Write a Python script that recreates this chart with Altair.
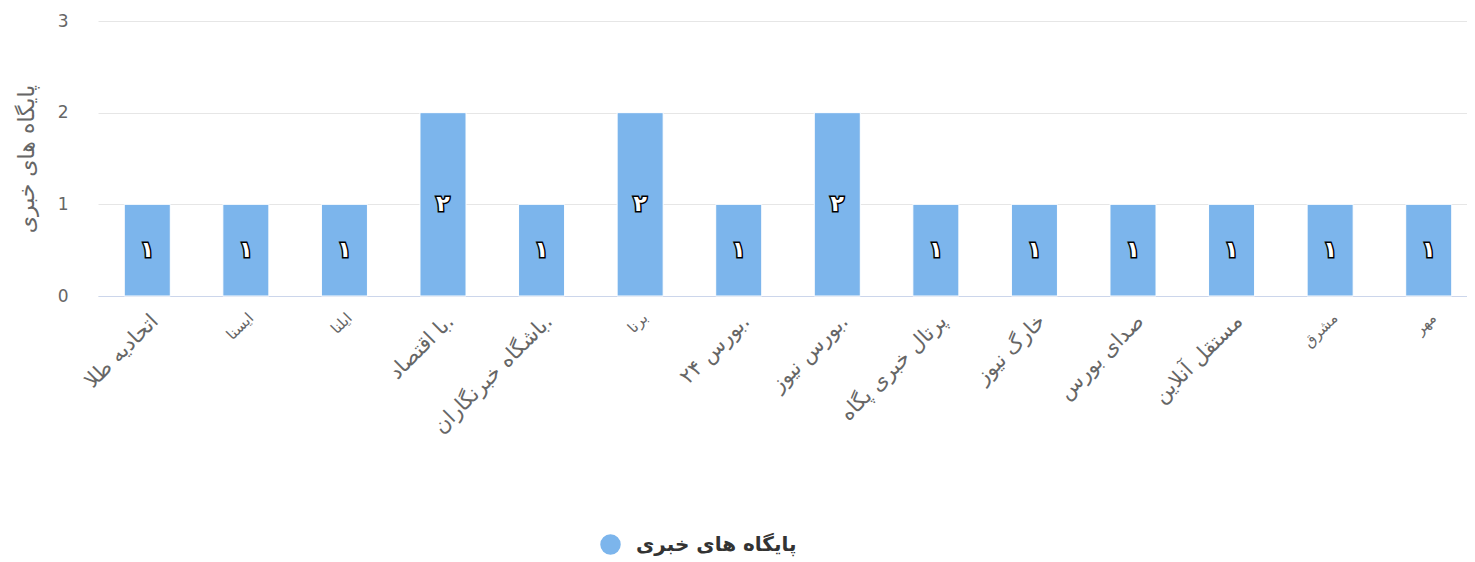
import altair as alt
import pandas as pd

categories = [
    "اتحادیه طلا", "ایسنا", "ایلنا", "با اقتصاد.", "باشگاه خبرنگاران.", "برنا",
    "بورس  ۲۴.", "بورس نیوز.", "پرتال خبری پگاه", "خارگ نیوز", "صدای بورس",
    "مستقل  آنلاین", "مشرق", "مهر",
]
values = [1, 1, 1, 2, 1, 2, 1, 2, 1, 1, 1, 1, 1, 1]
small_labels = ["ایسنا", "ایلنا", "برنا", "مشرق", "مهر"]
series_name = "پایگاه های خبری"

fa_digits = str.maketrans("0123456789", "۰۱۲۳۴۵۶۷۸۹")
df = pd.DataFrame({
    "cat": categories,
    "val": values,
    "lbl": [str(v).translate(fa_digits) for v in values],
    "series": [series_name] * len(values),
})

FONT = "DejaVu Sans"
small_test = "indexof([" + ",".join("'" + s + "'" for s in small_labels) + "], datum.value) >= 0"

base = alt.Chart(df).encode(
    x=alt.X("cat:N", sort=categories, title=None,
            scale=alt.Scale(paddingInner=0.533, paddingOuter=0.2665, range=[0, 1380]),
            axis=alt.Axis(labelAngle=-45, labelAlign="right", labelBaseline="top",
                          labelFontSize={"condition": {"test": small_test, "value": 15}, "value": 21},
                          labelColor="#666666", labelFont=FONT,
                          ticks=False, domainColor="#ccd6eb", domainWidth=1,
                          labelPadding=14, labelLimit=300)),
)

bars = base.mark_bar(color="#7cb5ec", stroke="white", strokeWidth=1).encode(
    y=alt.Y("val:Q", title=series_name,
            scale=alt.Scale(domain=[0, 3], nice=False),
            axis=alt.Axis(values=[0, 1, 2, 3], format="d", ticks=False, domain=False,
                          gridColor="#e6e6e6", labelFontSize=17, labelColor="#666666",
                          labelFont=FONT, labelPadding=30,
                          titleFontSize=22, titleColor="#666666", titleFont=FONT,
                          titleFontWeight="normal", titlePadding=19)),
    color=alt.Color("series:N", scale=alt.Scale(range=["#7cb5ec"]),
                    legend=alt.Legend(title=None, orient="none", legendX=502, legendY=513,
                                      symbolType="circle", symbolSize=420,
                                      symbolStrokeWidth=0,
                                      labelFontSize=20, labelFontWeight="bold",
                                      labelColor="#333333", labelFont=FONT,
                                      labelOffset=15, labelLimit=400)),
)

txt_outline = base.mark_text(fontSize=22, fontWeight="bold", font=FONT,
                             stroke="black", strokeWidth=3, fill="white",
                             baseline="middle").encode(
    y=alt.Y("mid:Q"), text="lbl:N").transform_calculate(mid="datum.val / 2")
txt_fill = base.mark_text(fontSize=22, fontWeight="bold", font=FONT,
                          fill="white", baseline="middle").encode(
    y=alt.Y("mid:Q"), text="lbl:N").transform_calculate(mid="datum.val / 2")

chart = alt.layer(bars, txt_outline, txt_fill).properties(
    width=1369, height=275,
    autosize=alt.AutoSizeParams(type="none"),
    padding={"left": 90, "top": 13, "right": 0, "bottom": 262},
).configure_view(stroke=None).configure_axis(gridWidth=1)

chart.save("out.html", embed_options={"renderer": "svg", "actions": False})
